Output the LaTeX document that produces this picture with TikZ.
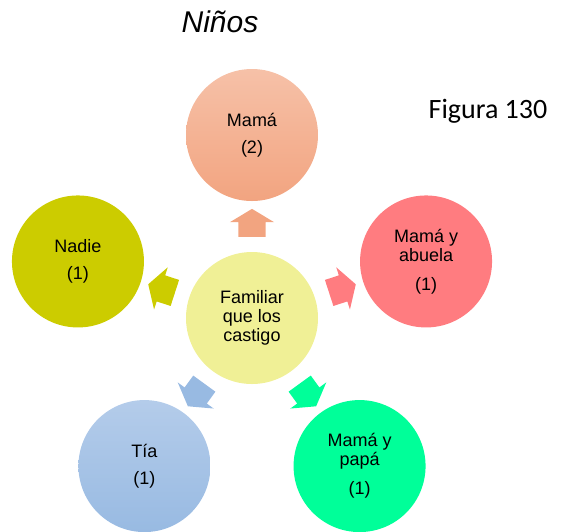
\documentclass[tikz,border=0pt]{standalone}
\usepackage{fontspec}
\setmainfont{Liberation Sans}
\newfontfamily\figfont{Carlito}
\usepackage{tikz}
\usetikzlibrary{shapes.arrows,calc}
\definecolor{salmonA}{RGB}{246,193,168}
\definecolor{salmonB}{RGB}{242,164,128}
\definecolor{rosa}{RGB}{255,124,128}
\definecolor{oliva}{RGB}{204,204,0}
\definecolor{verde}{RGB}{0,255,153}
\definecolor{azulA}{RGB}{180,204,234}
\definecolor{azulB}{RGB}{152,186,226}
\definecolor{amarillo}{RGB}{240,240,150}
\tikzset{circ/.style={circle, minimum size=132pt, inner sep=0pt, align=center,
  font=\fontsize{18}{19}\selectfont},
  flecha/.style={single arrow, draw=none, minimum height=28pt,
  inner xsep=0pt, inner ysep=13.5pt,
  single arrow head extend=8.5pt, single arrow head indent=0pt,
  single arrow tip angle=118}}

\begin{document}
\begin{tikzpicture}[x=1pt,y=1pt]
\useasboundingbox (0,0) rectangle (562,-531);
\node (titulo) [anchor=base, font=\fontsize{30}{32}\selectfont\itshape] at (220,-32) {Niños};
\node (figura) [anchor=base, font=\figfont\fontsize{28}{30}\selectfont] at (488,-118) {Figura 130};

\node (centro) [circ, fill=amarillo] at (252,-318) {Familiar\\que los\\castigo};
\node (mama) [circ, top color=salmonA, bottom color=salmonB] at ($(centro)+(90:183)$) {Mamá\\[8pt](2)};
\node (abuela) [circ, fill=rosa] at ($(centro)+(18:183)$) {Mamá y\\abuela\\[10pt](1)};
\node (papa) [circ, fill=verde] at ($(centro)+(-54:183)$) {Mamá y\\papá\\[10pt](1)};
\node (tia) [circ, top color=azulA, bottom color=azulB] at ($(centro)+(-126:183)$) {Tía\\[8pt](1)};
\node (nadie) [circ, fill=oliva] at ($(centro)+(162:183)$) {Nadie\\[8pt](1)};

% flechas de bloque hacia cada familiar
\foreach \ang/\col [count=\i] in {90/salmonB,18/rosa,-54/verde,-126/azulB,162/oliva}
  \node (flecha\i) [flecha, fill=\col, rotate=\ang] at ($(centro)+(\ang:91)$) {};
\end{tikzpicture}
\end{document}
